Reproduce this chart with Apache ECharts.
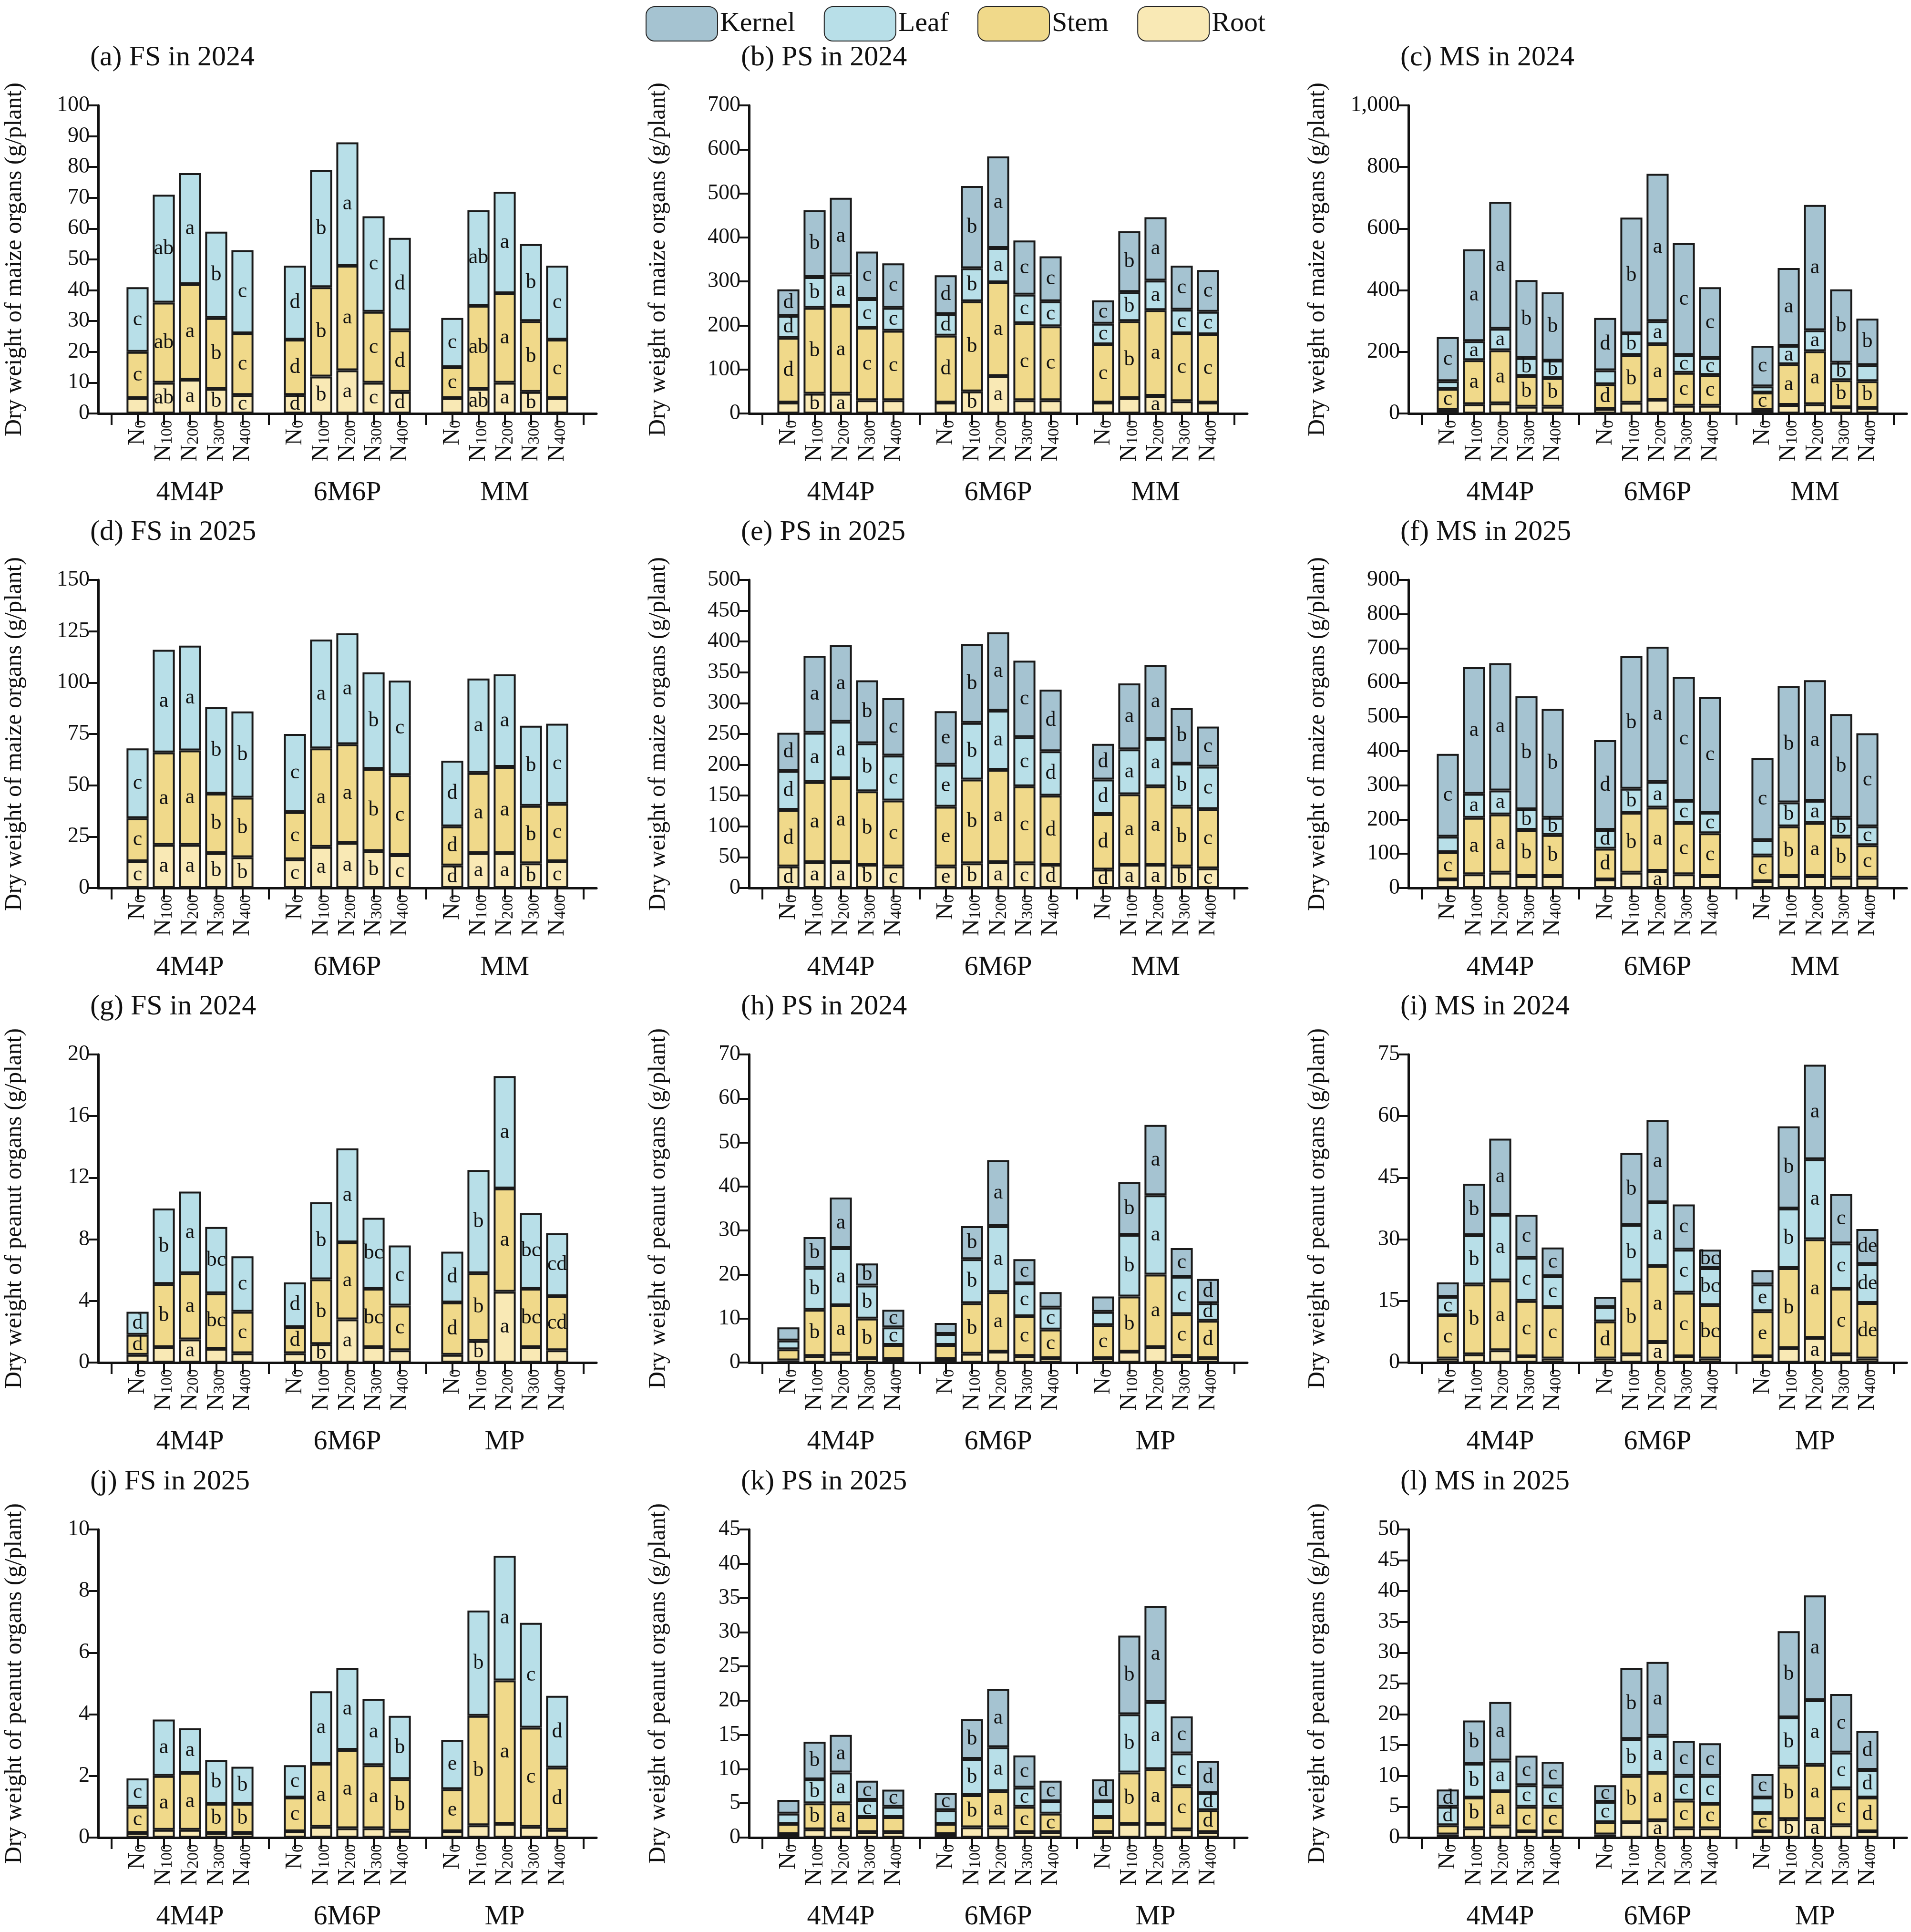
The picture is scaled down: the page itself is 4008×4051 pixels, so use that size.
<!DOCTYPE html>
<html><head><meta charset="utf-8">
<script src="https://cdn.jsdelivr.net/npm/echarts@6/dist/echarts.min.js"></script>
<style>html,body{margin:0;padding:0;background:#fff}#c{width:4008px;height:4051px}</style>
</head><body><div id="c"></div>
<script>
// Cumulative tops (root, stem, leaf, kernel), 15 bars per panel: 3 groups x N0..N400
const nLevels = ['N0','N100','N200','N300','N400'];
const groupsMaize = ['4M4P','6M6P','MM'];
const groupsPeanut = ['4M4P','6M6P','MP'];
const seriesNames = ['Root','Stem','Leaf','Kernel'];

const aRoot=[5,10,11,8,6, 6,12,14,10,7, 5,8,10,7,5];
const aStem=[20,36,42,31,26, 24,41,48,33,27, 15,35,39,30,24];
const aLeaf=[41,71,78,59,53, 48,79,88,64,57, 31,66,72,55,48];
const aLet='c ab a b c d b a c d c ab a b c';

const bRoot=[25,45,45,30,30, 25,50,85,30,30, 25,35,40,28,25];
const bStem=[172,240,245,195,188, 177,255,298,205,198, 157,210,235,182,180];
const bLeaf=[222,310,316,260,240, 226,330,376,270,255, 204,276,302,236,231];
const bKern=[282,462,490,368,341, 314,517,584,393,357, 257,414,446,336,326];
const bLet='d b a c c d b a c c c b a c c';

const cRoot=[12,30,33,22,22, 15,35,45,25,25, 12,28,30,20,18];
const cStem=[80,173,205,122,115, 95,190,225,132,125, 68,160,202,108,105];
const cLeaf=[105,235,275,180,172, 140,260,300,190,180, 88,220,270,165,157];
const cKern=[248,533,687,433,393, 310,636,778,553,410, 220,472,677,403,308];
const cLet='c a a b b d b a c c c a a b b';

const dRoot=[13,21,21,17,15, 14,20,22,18,16, 11,17,17,12,13];
const dStem=[34,66,67,46,44, 37,68,70,58,55, 30,56,59,40,41];
const dLeaf=[68,116,118,88,86, 75,121,124,105,101, 62,102,104,79,80];
const dLet='c a a b b c a a b c d a a b c';

const eRoot=[35,42,42,38,35, 35,40,42,40,38, 30,38,38,35,32];
const eStem=[127,172,178,157,142, 132,176,192,165,150, 120,152,165,132,128];
const eLeaf=[190,252,270,235,215, 200,268,288,245,222, 176,225,242,202,197];
const eKern=[252,377,394,337,308, 287,396,415,369,322, 234,332,362,292,262];
const eLet='d a a b c e b a c d d a a b c';

const fRoot=[25,40,45,35,35, 25,45,50,40,35, 20,35,35,30,30];
const fStem=[105,205,215,170,155, 115,220,235,190,160, 95,180,190,150,125];
const fLeaf=[150,275,285,230,205, 170,290,310,255,220, 140,250,255,205,180];
const fKern=[392,645,657,560,523, 432,677,705,617,558, 380,590,607,508,452];
const fLet='c a a b b d b a c c c b a b c';

const gRoot=[0.5,1.0,1.5,0.9,0.6, 0.6,1.2,2.8,1.0,0.8, 0.5,1.4,4.6,1.0,0.8];
const gStem=[1.8,5.1,5.8,4.5,3.3, 2.3,5.4,7.8,4.8,3.7, 3.9,5.8,11.3,4.8,4.3];
const gLeaf=[3.3,10.0,11.1,8.8,6.9, 5.2,10.4,13.9,9.4,7.6, 7.2,12.5,18.6,9.7,8.4];
const gLet='d b a bc c d b a bc c d b a bc cd';

const hRoot=[0.5,1.5,2,1,0.8, 0.8,2,2.5,1.5,1, 1,2.5,3.5,1.5,1];
const hStem=[3,12,13,10,4, 4,13.5,16,10.5,7.5, 8.5,15,20,11,9.5];
const hLeaf=[5,21.5,26,17.5,8, 6.5,23.5,31,18,12.5, 11.5,29,38,19.5,13.5];
const hKern=[8,28.5,37.5,22.5,12, 9,31,46,23.5,16, 15,41,54,26,19];
const hLet='c b a b c c b a c c c b a c d';

const iRoot=[1,2,3,1.5,1, 1,2,5,1.5,1, 1.5,3.5,6,2,1];
const iStem=[11.5,19,20,15,13.5, 10,20,23.5,17,14, 12.5,23,30,18,14.5];
const iLeaf=[16,31,36,25.5,21, 13.5,33.5,39,27.5,23, 19,37.5,49.5,29,24];
const iKern=[19.5,43.5,54.5,36,28, 16,51,59,38.5,27.5, 22.5,57.5,72.5,41,32.5];
const iLet='c b a c c d b a c bc e b a c de';

const jRoot=[0.15,0.25,0.25,0.15,0.15, 0.2,0.35,0.3,0.3,0.22, 0.2,0.4,0.45,0.35,0.25];
const jStem=[1.0,2.0,2.1,1.1,1.1, 1.3,2.4,2.85,2.35,1.9, 1.57,3.95,5.1,3.57,2.27];
const jLeaf=[1.92,3.83,3.55,2.52,2.3, 2.35,4.75,5.5,4.5,3.95, 3.17,7.37,9.15,6.97,4.6];
const jLet='c a a b b c a a a b e b a c d';

const kRoot=[0.5,1.2,1.2,0.8,0.8, 0.5,1.5,1.5,0.8,0.8, 0.8,2,2,1.2,0.8];
const kStem=[2,5,5,3,3, 2,6.2,6.8,4.5,3.5, 3,9.5,10,7.5,4];
const kLeaf=[3.5,8.5,9.5,5.5,4.5, 4,11.5,13.2,7.3,5.3, 5.3,18,19.8,12.3,6.5];
const kKern=[5.5,14,15,8.3,7, 6.5,17.3,21.7,12,8.3, 8.5,29.5,33.8,17.7,11.2];
const kLet='c b a c c c b a c c d b a c d';

const lRoot=[0.5,1.5,1.8,1,1, 0.5,2.5,2.8,1.5,1.5, 1,3,3,2,1];
const lStem=[2,6.5,7.5,5,5, 2.5,10,10.5,6,5.5, 4,11.5,11.8,8,6.5];
const lLeaf=[5,12,12.5,8.5,8.3, 5.8,16,16.5,10,10, 6.5,19.5,22.3,13.8,11];
const lKern=[7.8,19,22,13.3,12.3, 8.5,27.5,28.5,15.7,15.3, 10.3,33.5,39.3,23.3,17.3];
const lLet='d b a c c c b a c c c b a c d';

const panels = [
 {t:'(a) FS in 2024',crop:'maize',max:100,iv:10,tops:[aRoot,aStem,aLeaf],let:aLet},
 {t:'(b) PS in 2024',crop:'maize',max:700,iv:100,tops:[bRoot,bStem,bLeaf,bKern],let:bLet},
 {t:'(c) MS in 2024',crop:'maize',max:1000,iv:200,tops:[cRoot,cStem,cLeaf,cKern],let:cLet},
 {t:'(d) FS in 2025',crop:'maize',max:150,iv:25,tops:[dRoot,dStem,dLeaf],let:dLet},
 {t:'(e) PS in 2025',crop:'maize',max:500,iv:50,tops:[eRoot,eStem,eLeaf,eKern],let:eLet},
 {t:'(f) MS in 2025',crop:'maize',max:900,iv:100,tops:[fRoot,fStem,fLeaf,fKern],let:fLet},
 {t:'(g) FS in 2024',crop:'peanut',max:20,iv:4,tops:[gRoot,gStem,gLeaf],let:gLet},
 {t:'(h) PS in 2024',crop:'peanut',max:70,iv:10,tops:[hRoot,hStem,hLeaf,hKern],let:hLet},
 {t:'(i) MS in 2024',crop:'peanut',max:75,iv:15,tops:[iRoot,iStem,iLeaf,iKern],let:iLet},
 {t:'(j) FS in 2025',crop:'peanut',max:10,iv:2,tops:[jRoot,jStem,jLeaf],let:jLet},
 {t:'(k) PS in 2025',crop:'peanut',max:45,iv:5,tops:[kRoot,kStem,kLeaf,kKern],let:kLet},
 {t:'(l) MS in 2025',crop:'peanut',max:50,iv:5,tops:[lRoot,lStem,lLeaf,lKern],let:lLet}
];
const colors = {Root:'#f9e9b5',Stem:'#f0d98a',Leaf:'#b8dfe8',Kernel:'#a5c3d1'};
const FONT = 'Liberation Serif';
const colLeft=[206,1571,2954], rowTop=[221,1216,2211,3207], gw=1045, gh=646;

// 19 slots: spacer, 5 bars, spacer, 5 bars, spacer, 5 bars, spacer
function slotIndex(i){ const g=Math.floor(i/5); return 1+g*6+(i%5); }
const cats=[], grpCats=[];
for(let s=0;s<19;s++){ cats.push(''); grpCats.push(''); }

const option = {
  backgroundColor:'#fff', animation:false,
  textStyle:{fontFamily:FONT},
  legend:{top:8,left:'center',itemWidth:150,itemHeight:72,itemGap:60,
    data:['Kernel','Leaf','Stem','Root'],textStyle:{fontSize:58,fontFamily:FONT,color:'#111'},
    itemStyle:{borderColor:'#222',borderWidth:2}},
  title:[],grid:[],xAxis:[],yAxis:[],series:[]
};

panels.forEach((p,pi)=>{
  const r=Math.floor(pi/3), c=pi%3;
  const groups = p.crop==='maize'?groupsMaize:groupsPeanut;
  const nc=[], gc=[];
  for(let s=0;s<19;s++){ nc.push(''); gc.push(''); }
  for(let i=0;i<15;i++){ nc[slotIndex(i)]=nLevels[i%5]+'#'+i; }
  groups.forEach((g,gi)=>{ gc[1+gi*6+2]=g; });
  option.title.push({text:p.t,left:colLeft[c]-22,top:rowTop[r]-135,
    textStyle:{fontSize:60,fontWeight:'normal',fontFamily:FONT,color:'#111'}});
  option.grid.push({left:colLeft[c],top:rowTop[r],width:gw,height:gh});
  const axLine={show:true,lineStyle:{color:'#111',width:5}};
  option.xAxis.push({type:'category',gridIndex:pi,data:nc,axisLine:axLine,
    axisTick:{show:true,alignWithLabel:true,interval:0,length:24,lineStyle:{color:'#111',width:4}},
    axisLabel:{interval:0,rotate:90,margin:14,
      formatter:v=>{ if(!v) return ''; const n=v.split('#')[0]; return '{n|N}{s|'+n.slice(1)+'}'; },
      rich:{n:{fontSize:50,fontFamily:FONT,color:'#111'},s:{fontSize:34,fontFamily:FONT,color:'#111',verticalAlign:'bottom',padding:[14,0,0,0]}}}});
  option.xAxis.push({type:'category',gridIndex:pi,data:gc,position:'bottom',offset:130,
    axisLine:{show:false},axisTick:{show:false},
    axisLabel:{interval:0,fontSize:58,fontFamily:FONT,color:'#111'}});
  option.yAxis.push({type:'value',gridIndex:pi,min:0,max:p.max,interval:p.iv,
    name:'Dry weight of '+p.crop+' organs (g/plant)',nameLocation:'middle',nameGap:c===0?150:165,
    nameTextStyle:{fontSize:50,fontFamily:FONT,color:'#111'},
    axisLine:axLine,axisTick:{show:true,inside:false,length:20,lineStyle:{color:'#111',width:4}},
    axisLabel:{fontSize:46,fontFamily:FONT,color:'#111',margin:18},splitLine:{show:false}});
  const lets=p.let.split(' ');
  p.tops.forEach((arr,si)=>{
    const name=seriesNames[si];
    const data=new Array(19).fill('-');
    for(let i=0;i<15;i++){
      const v=arr[i]-(si>0?p.tops[si-1][i]:0);
      const px=v/p.max*gh;
      data[slotIndex(i)]={value:v,label:{show:px>34,formatter:lets[i]}};
    }
    option.series.push({type:'bar',name,stack:'s'+pi,xAxisIndex:pi*2,yAxisIndex:pi,data,
      barCategoryGap:'16%',itemStyle:{color:colors[name],borderColor:'#1a1a1a',borderWidth:4},
      label:{position:'inside',fontSize:44,fontFamily:FONT,color:'#111'}});
  });
});
const ch=echarts.init(document.getElementById('c'));
ch.setOption(option);
</script></body></html>
